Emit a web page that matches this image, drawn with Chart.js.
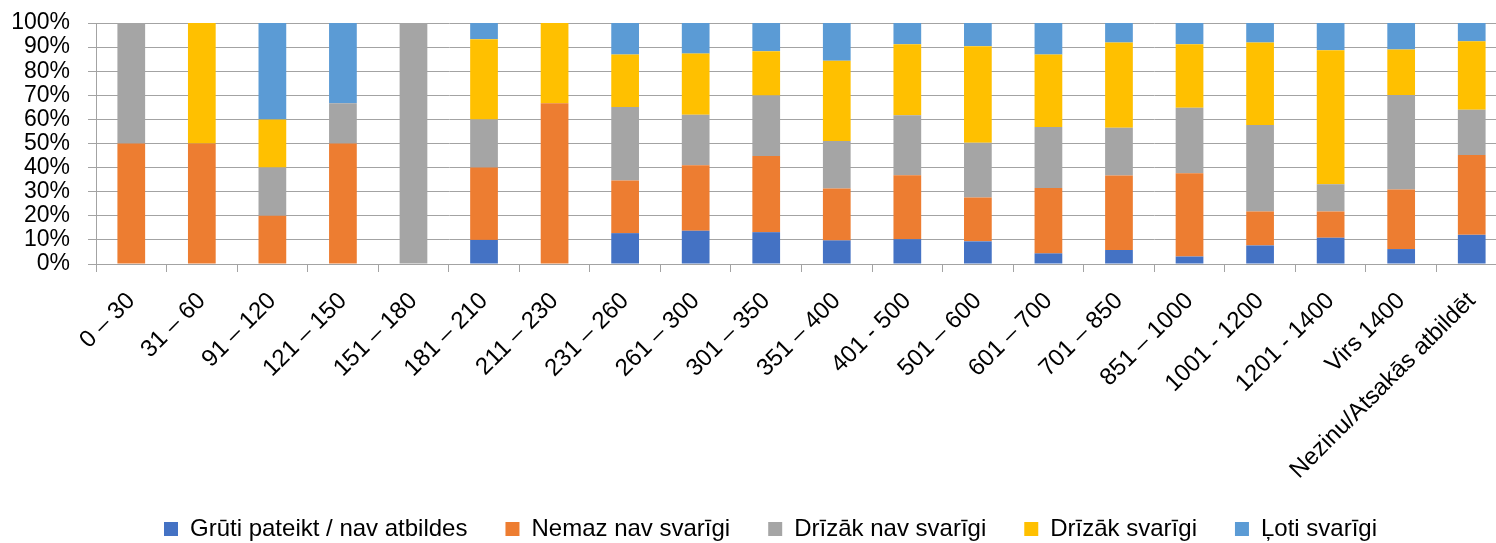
<!DOCTYPE html>
<html><head><meta charset="utf-8">
<script src="https://cdn.jsdelivr.net/npm/chart.js@4.4.1/dist/chart.umd.min.js"></script>
<style>
html,body{margin:0;padding:0;overflow:hidden;background:#fff;width:1496px;height:543px}
#wrap{width:1510px;height:552px;overflow:hidden}
canvas{display:block}
</style>
</head><body>
<div id="wrap"><canvas id="c" width="1510" height="552"></canvas></div>
<script>
const categories = ["0 – 30","31 – 60","91 – 120","121 – 150","151 – 180","181 – 210","211 – 230","231 – 260","261 – 300","301 – 350","351 – 400","401 - 500","501 – 600","601 – 700","701 – 850","851 – 1000","1001 - 1200","1201 - 1400","Virs 1400","Nezinu/Atsakās atbildēt"];
const seriesNames = ["Grūti pateikt / nav atbildes","Nemaz nav svarīgi","Drīzāk nav svarīgi","Drīzāk svarīgi","Ļoti svarīgi"];
const gruti      = [0,0,0,0,0,10,0,12.8,13.8,13.2,9.8,10.3,9.4,4.4,5.8,3.1,7.7,10.9,6.2,12.1];
const nemaz      = [50,50,20,50,0,30,66.7,21.8,27.2,31.6,21.5,26.5,18.2,27.1,30.9,34.6,14.1,10.9,24.7,33.1];
const drizakNav  = [50,0,20,16.7,100,20,0,30.5,20.9,25.1,19.7,24.9,22.7,25.3,19.8,27.1,35.9,11.3,39.2,18.8];
const drizak     = [0,50,20,0,0,33.3,33.3,21.8,25.4,18.4,33.3,29.5,40.1,30.1,35.4,26.4,34.2,55.6,18.9,28.4];
const loti       = [0,0,40,33.3,0,6.7,0,13.1,12.7,11.7,15.7,8.8,9.6,13.1,8.1,8.8,8.1,11.3,11.0,7.6];
const yTicks = [0,10,20,30,40,50,60,70,80,90,100];
const colors = ["#4472C4","#ED7D31","#A5A5A5","#FFC000","#5B9BD5"];

const seriesData = [gruti, nemaz, drizakNav, drizak, loti];
const FONT = "'Liberation Sans', Arial, sans-serif";
const GRID = "#a3a3a3";

const legendShift = {
  id: 'legendShift',
  afterLayout(chart) {
    if (chart.legend) { chart.legend.left += 17; chart.legend.right += 17; }
  }
};

new Chart(document.getElementById('c'), {
  type: 'bar',
  data: {
    labels: categories,
    datasets: seriesNames.map((n, i) => ({
      label: n,
      data: seriesData[i],
      backgroundColor: colors[i],
      borderWidth: 0,
      categoryPercentage: 1,
      barPercentage: 0.393
    }))
  },
  plugins: [legendShift],
  options: {
    responsive: false,
    animation: false,
    devicePixelRatio: 1,
    layout: { padding: { top: 23, left: 0, right: 3, bottom: 1 } },
    plugins: {
      tooltip: { enabled: false },
      legend: {
        position: 'bottom',
        labels: {
          font: { family: FONT, size: 24 },
          color: '#000',
          boxWidth: 14,
          boxHeight: 14,
          padding: 38
        }
      }
    },
    scales: {
      x: {
        stacked: true,
        grid: { drawOnChartArea: false, drawTicks: true, tickLength: 8, color: GRID, offset: true },
        border: { display: true, color: GRID },
        ticks: {
          autoSkip: false, minRotation: 45, maxRotation: 45,
          font: { family: FONT, size: 24 }, color: '#000', padding: 15
        },
        afterFit: (s) => { s.height = 215; }
      },
      y: {
        stacked: true,
        min: 0, max: 100,
        afterBuildTicks: (s) => { s.ticks = yTicks.map(v => ({ value: v })); },
        grid: { color: GRID, tickLength: 8, drawTicks: true },
        border: { display: true, color: GRID },
        ticks: {
          autoSkip: false,
          font: { family: FONT, size: 23 }, color: '#000', padding: 18,
          callback: (v) => v + '%'
        },
        afterFit: (s) => { s.width = 96; s.paddingTop = 0; s.paddingBottom = 0; }
      }
    }
  }
});
</script>
</body></html>
